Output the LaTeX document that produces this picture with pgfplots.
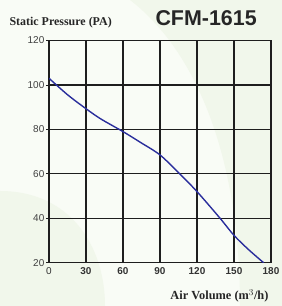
\documentclass[border=0pt]{standalone}
\usepackage{pgfplots}
\pgfplotsset{compat=1.18}
\usepackage{fontspec}
\setmainfont{Liberation Serif}
\newfontfamily\arial{Liberation Sans}
\definecolor{bgA}{HTML}{F9FCF6}
\definecolor{bgB}{HTML}{F1F7EB}
\definecolor{curve}{HTML}{2A2E9C}
\definecolor{gridc}{HTML}{1E1E1E}
\begin{document}
\begin{tikzpicture}[x=1bp,y=1bp]
\useasboundingbox (0,0) rectangle (282,306);
\fill[bgA] (0,0) rectangle (282,306);
\fill[bgB] (130,306) .. controls (190,260) and (240,160) .. (240,0) -- (282,0) -- (282,306) -- cycle;
\fill[bgB] (0,115) .. controls (70,115) and (105,60) .. (105,0) -- (0,0) -- cycle;
\begin{axis}[
  at={(49bp,43.3bp)}, anchor=south west,
  scale only axis, width=222bp, height=222.2bp,
  xmin=0, xmax=180, ymin=20, ymax=120,
  xtick={0,30,...,180}, ytick={20,40,...,120},
  grid=major,
  major grid style={gridc, line width=1.3pt},
  axis line style={gridc, line width=1.3pt},
  tick style={gridc, line width=0.8pt},
  xtick style={draw=none},
  major tick length=3bp,
  tick align=outside,
  axis x line*=bottom, axis y line*=left,
  /pgf/number format/assume math mode=true,
  yticklabel style={font=\arial\fontsize{10}{12}\selectfont, text=black!75, inner sep=1.5pt},
  xticklabel style={font=\arial\bfseries\fontsize{10}{12}\selectfont, text=black!80, inner sep=1.5pt},
  xticklabel={\ifdim\tick pt=0pt \mdseries\pgfmathprintnumber{\tick}\else\pgfmathprintnumber{\tick}\fi},
]
\addplot[curve, line width=1.4pt, smooth] coordinates {
(0,103) (15,95.6) (30,89.3) (42,84.7) (60,79) (74,74.2) (90,68.5)
(106,60) (120,52) (138.7,40) (150,32.3) (162,25.8) (174,20)
};
\end{axis}
\node[font=\bfseries\fontsize{12}{14}\selectfont, text=black!85, anchor=west] at (6,283) {Static Pressure (PA)};
\node[font=\arial\bfseries\fontsize{21.5}{24}\selectfont, text=black!85, anchor=west] at (152,288) {CFM-1615};
\node[font=\bfseries\fontsize{12.4}{14}\selectfont, text=black!85, anchor=east] at (272,10) {Air Volume (m$^{3}$/h)};
\end{tikzpicture}
\end{document}
